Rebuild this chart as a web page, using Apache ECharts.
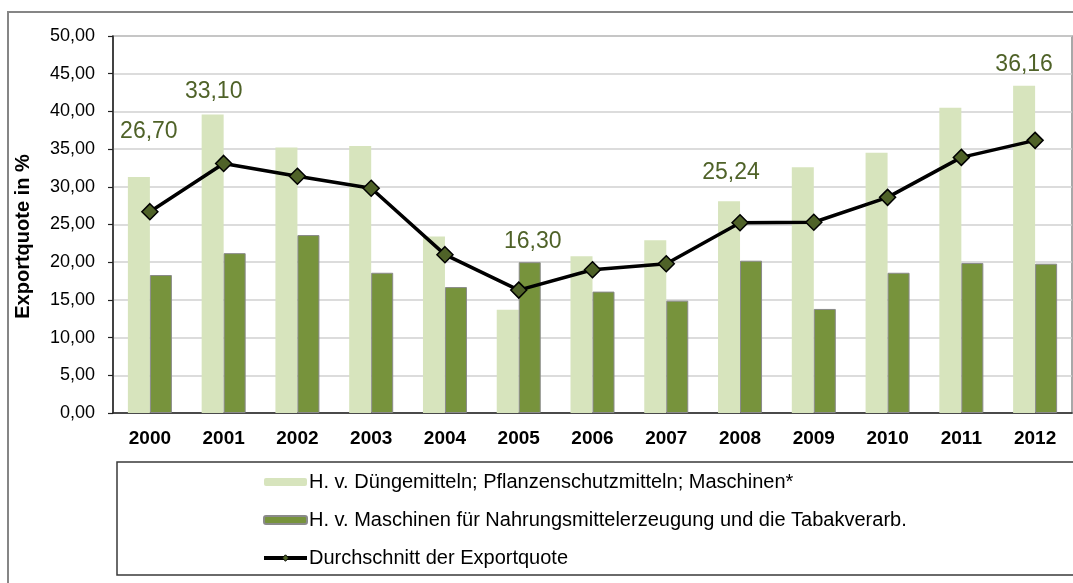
<!DOCTYPE html>
<html>
<head>
<meta charset="utf-8">
<script src="https://cdn.jsdelivr.net/npm/echarts@6/dist/echarts.min.js"></script>
<style>
  html, body { margin: 0; padding: 0; background: #fff; }
  #main { width: 1073px; height: 583px; }
</style>
</head>
<body>
<div id="main"></div>
<script>
var years = ['2000', '2001', '2002', '2003', '2004', '2005', '2006', '2007', '2008', '2009', '2010', '2011', '2012'];
var duengemittel = [31.3, 39.6, 35.2, 35.4, 23.4, 13.7, 20.8, 22.9, 28.1, 32.6, 34.5, 40.5, 43.4];
var nahrungsmittel = [18.3, 21.2, 23.6, 18.6, 16.7, 20.0, 16.1, 14.9, 20.2, 13.8, 18.6, 19.9, 19.8];
var durchschnitt = [26.70, 33.10, 31.4, 29.8, 21.0, 16.30, 19.0, 19.8, 25.24, 25.3, 28.6, 33.9, 36.16];
var yTicks = [0, 5, 10, 15, 20, 25, 30, 35, 40, 45, 50];

var seriesNames = [
    'H. v. Düngemitteln; Pflanzenschutzmitteln; Maschinen*',
    'H. v. Maschinen für Nahrungsmittelerzeugung und die Tabakverarb.',
    'Durchschnitt der Exportquote'
];

// which points of the average line get a value label, and where it sits
var labelOffsets = {0: [-1, -80], 1: [-10, -72], 5: [14, -48], 8: [-9, -50], 12: [-11, -76]};

function fmt(v) {
    return v.toFixed(2).replace('.', ',');
}

var lineData = durchschnitt.map(function (v, i) {
    var item = {value: v};
    if (labelOffsets[i]) {
        item.label = {show: true, offset: labelOffsets[i]};
    }
    return item;
});

var font = '"Liberation Sans", Arial, sans-serif';
var myChart = echarts.init(document.getElementById('main'), null, {renderer: 'canvas'});

option = {
    animation: false,
    textStyle: {fontFamily: font},
    grid: {
        left: 113, right: 1, top: 36, bottom: 170,
        show: true, borderColor: '#8c8c8c', borderWidth: 1.5
    },
    graphic: [
        { // outer frame
            type: 'rect', silent: true,
            shape: {x: 8, y: 12, width: 1090, height: 620},
            style: {fill: 'none', stroke: '#868686', lineWidth: 2}
        },
        { // legend box
            type: 'rect', silent: true,
            shape: {x: 117, y: 462, width: 990, height: 113},
            style: {fill: 'none', stroke: '#3a3a3a', lineWidth: 1.5}
        }
    ],
    legend: {
        orient: 'vertical',
        left: 262,
        top: 472,
        padding: 0,
        itemWidth: 43,
        itemHeight: 8,
        itemGap: 18,
        textStyle: {fontSize: 20, color: '#000', fontFamily: font, padding: [0, 0, 0, -3]},
        data: [
            {name: seriesNames[0]},
            {name: seriesNames[1]},
            {
                name: seriesNames[2],
                lineStyle: {color: '#000', width: 4},
                itemStyle: {color: '#4f6228', borderColor: '#000', borderWidth: 1}
            }
        ]
    },
    xAxis: {
        type: 'category',
        data: years,
        axisLine: {lineStyle: {color: '#222', width: 1.5}},
        axisTick: {length: 8, lineStyle: {color: '#222', width: 1.2}},
        axisLabel: {fontSize: 19, fontWeight: 'bold', color: '#000', margin: 16}
    },
    yAxis: {
        type: 'value',
        min: 0, max: 50, interval: 5,
        name: 'Exportquote in %',
        nameLocation: 'middle',
        nameGap: 80,
        nameTextStyle: {fontSize: 20, fontWeight: 'bold', color: '#000', padding: [0, 24, 0, 0]},
        axisLine: {show: true, lineStyle: {color: '#222', width: 1.5}},
        axisTick: {show: true, length: 5, lineStyle: {color: '#222', width: 1.2}},
        axisLabel: {
            fontSize: 18, color: '#000', margin: 18,
            formatter: function (v) { return yTicks.indexOf(v) >= 0 ? fmt(v) : ''; }
        },
        splitLine: {lineStyle: {color: '#d0d0d0', width: 1.5}}
    },
    series: [
        {
            name: seriesNames[0],
            type: 'bar',
            data: duengemittel,
            barWidth: 22,
            barGap: '0%',
            itemStyle: {color: '#d7e4bd'}
        },
        {
            name: seriesNames[1],
            type: 'bar',
            data: nahrungsmittel,
            barWidth: 22,
            itemStyle: {color: '#77933c', borderColor: '#8a8a8a', borderWidth: 1}
        },
        {
            name: seriesNames[2],
            type: 'line',
            data: lineData,
            symbol: 'diamond',
            symbolSize: 16,
            lineStyle: {color: '#000', width: 3.5},
            itemStyle: {color: '#4f6228', borderColor: '#000', borderWidth: 1.5},
            label: {
                show: false,
                position: 'inside',
                fontSize: 23,
                color: '#4f6228',
                formatter: function (p) { return fmt(p.value); }
            },
            z: 5
        }
    ]
};

if (option && typeof option === "object") {
    myChart.setOption(option, true);
}
</script>
</body>
</html>
